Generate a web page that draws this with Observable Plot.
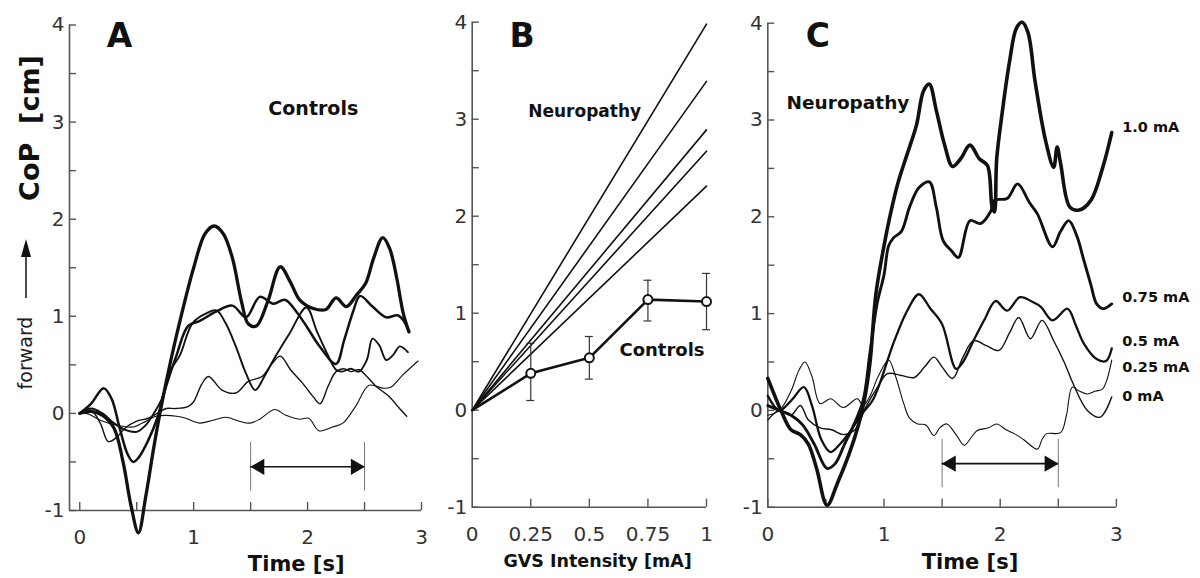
<!DOCTYPE html>
<html><head><meta charset="utf-8">
<script src="https://cdn.jsdelivr.net/npm/d3@7"></script>
<script src="https://cdn.jsdelivr.net/npm/@observablehq/plot@0.6"></script>
<style>
body{margin:0;background:#fff;}
#root{position:relative;width:1200px;height:578px;overflow:hidden;background:#fff;}
.panel{position:absolute;top:0;}
</style></head><body><div id="root"></div>
<script>
// ---------- Panel A: Controls, CoP over time for 5 GVS intensities ----------
const ctrl_0mA = [[0,0],[0.06,0],[0.18,-0.07],[0.32,-0.12],[0.47,-0.14],[0.55,-0.10],[0.67,-0.03],[0.76,-0.02],[0.85,-0.03],[0.93,-0.05],[1.05,-0.10],[1.17,-0.07],[1.28,-0.04],[1.40,-0.08],[1.49,-0.10],[1.58,-0.06],[1.71,0.04],[1.81,-0.02],[1.93,-0.06],[2.01,-0.05],[2.10,-0.18],[2.22,-0.14],[2.31,-0.10],[2.42,0.07],[2.54,0.29],[2.66,0.26],[2.73,0.27],[2.83,0.39],[2.97,0.54]];
const ctrl_025mA = [[0,0],[0.1,0.03],[0.18,-0.1],[0.25,-0.29],[0.32,-0.25],[0.4,-0.15],[0.5,-0.08],[0.6,-0.05],[0.68,0],[0.76,0.05],[0.84,0.05],[0.95,0.07],[1.0,0.12],[1.07,0.3],[1.13,0.38],[1.25,0.24],[1.37,0.21],[1.48,0.33],[1.6,0.38],[1.68,0.5],[1.76,0.59],[1.85,0.45],[1.95,0.32],[2.05,0.17],[2.11,0.10],[2.18,0.28],[2.25,0.43],[2.32,0.46],[2.38,0.43],[2.45,0.45],[2.52,0.38],[2.6,0.28],[2.72,0.17],[2.8,0.06],[2.87,-0.03]];
const ctrl_05mA = [[0,0],[0.1,0.05],[0.2,0.0],[0.3,-0.1],[0.4,-0.17],[0.5,-0.19],[0.58,-0.12],[0.65,0],[0.72,0.15],[0.8,0.45],[0.88,0.6],[0.99,0.93],[1.11,1.03],[1.2,1.06],[1.28,0.93],[1.37,0.69],[1.46,0.41],[1.54,0.24],[1.62,0.38],[1.7,0.55],[1.84,0.82],[1.99,1.09],[2.08,0.85],[2.17,0.62],[2.25,0.45],[2.3,0.43],[2.38,0.46],[2.45,0.43],[2.52,0.55],[2.57,0.77],[2.63,0.7],[2.69,0.55],[2.75,0.6],[2.81,0.69],[2.88,0.63]];
const ctrl_075mA = [[0,0],[0.1,0.1],[0.21,0.26],[0.28,0.15],[0.35,-0.15],[0.42,-0.42],[0.47,-0.5],[0.52,-0.45],[0.6,-0.28],[0.68,-0.05],[0.75,0.25],[0.85,0.6],[0.95,0.9],[1.05,0.95],[1.2,1.05],[1.34,1.11],[1.46,0.99],[1.58,1.2],[1.7,1.13],[1.8,1.17],[1.9,1.05],[2.0,0.88],[2.1,0.7],[2.25,0.51],[2.32,0.75],[2.4,1.05],[2.46,1.21],[2.57,1.10],[2.69,0.99],[2.79,1.01],[2.84,0.96],[2.89,0.84]];
const ctrl_1mA = [[0,0],[0.1,0.02],[0.2,-0.02],[0.3,-0.15],[0.38,-0.5],[0.45,-0.95],[0.515,-1.23],[0.58,-0.85],[0.65,-0.35],[0.72,0.1],[0.8,0.55],[0.9,1.05],[1.0,1.5],[1.1,1.85],[1.18,1.93],[1.26,1.85],[1.34,1.6],[1.42,1.15],[1.48,0.92],[1.55,0.9],[1.65,1.15],[1.76,1.51],[1.85,1.35],[1.93,1.17],[2.05,1.08],[2.16,1.07],[2.25,1.19],[2.34,1.10],[2.43,1.22],[2.51,1.34],[2.58,1.6],[2.66,1.81],[2.72,1.7],[2.78,1.41],[2.84,1.03],[2.89,0.84]];

// ---------- Panel B: peak CoP vs GVS intensity ----------
const gvsLevels = [0, 0.25, 0.5, 0.75, 1];
const neuroEndValues = [3.98, 3.39, 2.89, 2.67, 2.31];   // each neuropathy line from 0 to this value at 1 mA
const ctrlMean = [0, 0.38, 0.54, 1.14, 1.12];
const ctrlLow  = [null, 0.10, 0.32, 0.92, 0.83];
const ctrlHigh = [null, 0.69, 0.76, 1.34, 1.41];

// ---------- Panel C: Neuropathy, CoP over time ----------
const neuro_0mA = [[0,-0.05],[0.1,0.0],[0.2,0.2],[0.27,0.42],[0.32,0.5],[0.38,0.35],[0.45,0.07],[0.54,0.12],[0.65,0.03],[0.77,0.12],[0.82,0.05],[0.88,0.15],[0.95,0.35],[1.04,0.52],[1.1,0.35],[1.17,0.07],[1.22,-0.08],[1.29,-0.14],[1.36,-0.15],[1.43,-0.26],[1.48,-0.18],[1.54,-0.14],[1.62,-0.25],[1.69,-0.36],[1.75,-0.28],[1.8,-0.21],[1.9,-0.18],[1.97,-0.14],[2.05,-0.2],[2.12,-0.24],[2.2,-0.3],[2.32,-0.4],[2.36,-0.3],[2.4,-0.24],[2.52,-0.23],[2.57,-0.05],[2.62,0.24],[2.68,0.2],[2.75,0.17],[2.82,0.2],[2.88,0.22],[2.96,0.52]];
const neuro_025mA = [[0,-0.1],[0.1,0.0],[0.2,-0.05],[0.28,0.05],[0.35,-0.1],[0.45,-0.18],[0.55,-0.2],[0.65,-0.25],[0.75,-0.2],[0.85,0.05],[0.95,0.25],[1.03,0.38],[1.15,0.36],[1.26,0.34],[1.35,0.45],[1.43,0.55],[1.5,0.45],[1.59,0.33],[1.68,0.55],[1.77,0.72],[1.88,0.67],[1.99,0.62],[2.08,0.8],[2.16,0.96],[2.26,0.74],[2.36,0.93],[2.46,0.72],[2.55,0.5],[2.63,0.27],[2.75,0.0],[2.86,-0.07],[2.96,0.14]];
const neuro_05mA = [[0,0.15],[0.1,0.0],[0.2,0.1],[0.31,0.24],[0.38,0.05],[0.46,-0.3],[0.54,-0.43],[0.62,-0.35],[0.72,-0.2],[0.8,-0.05],[0.9,0.1],[0.97,0.3],[1.08,0.69],[1.2,1.03],[1.3,1.2],[1.4,1.05],[1.5,0.89],[1.62,0.43],[1.68,0.5],[1.77,0.72],[1.87,0.95],[1.96,1.13],[2.06,1.03],[2.17,1.17],[2.28,1.12],[2.35,1.07],[2.45,0.93],[2.58,1.05],[2.65,0.88],[2.72,0.69],[2.83,0.53],[2.91,0.51],[2.96,0.64]];
const neuro_075mA = [[0,0.05],[0.1,0.0],[0.2,-0.05],[0.3,-0.15],[0.4,-0.35],[0.51,-0.6],[0.58,-0.55],[0.66,-0.35],[0.74,-0.15],[0.82,0.1],[0.88,0.6],[0.94,1.1],[1.0,1.4],[1.04,1.7],[1.08,1.78],[1.15,1.85],[1.22,2.1],[1.3,2.3],[1.39,2.36],[1.45,2.1],[1.51,1.75],[1.58,1.65],[1.64,1.58],[1.74,1.96],[1.83,1.93],[1.92,2.06],[1.95,2.17],[2.06,2.19],[2.15,2.34],[2.25,2.15],[2.32,2.03],[2.45,1.69],[2.52,1.85],[2.59,1.96],[2.66,1.8],[2.72,1.55],[2.78,1.3],[2.83,1.10],[2.89,1.05],[2.96,1.10]];
const neuro_1mA = [[0,0.33],[0.06,0.15],[0.12,-0.02],[0.2,-0.2],[0.28,-0.25],[0.35,-0.35],[0.42,-0.6],[0.51,-0.98],[0.6,-0.75],[0.7,-0.45],[0.78,-0.15],[0.83,0.1],[0.88,0.5],[0.93,1.2],[1.0,1.7],[1.05,2.0],[1.12,2.35],[1.2,2.65],[1.28,2.95],[1.34,3.3],[1.39,3.37],[1.45,3.1],[1.52,2.75],[1.59,2.52],[1.66,2.6],[1.74,2.74],[1.82,2.6],[1.89,2.53],[1.93,2.1],[1.95,2.05],[1.97,2.6],[2.02,3.1],[2.08,3.6],[2.14,3.95],[2.19,4.01],[2.24,3.9],[2.3,3.4],[2.39,2.79],[2.46,2.51],[2.49,2.72],[2.52,2.55],[2.6,2.1],[2.68,2.07],[2.78,2.17],[2.88,2.5],[2.96,2.87]];
const neuroLabels = ["1.0 mA", "0.75 mA", "0.5 mA", "0.25 mA", "0 mA"];
const neuroLabelY = [2.92, 1.17, 0.71, 0.44, 0.15];

// ---------- Axes ----------
const yTicksMinor = [-1,-0.5,0,0.5,1,1.5,2,2.5,3,3.5,4];
const yTickLabels = [-1,0,1,2,3,4];
const timeTicks = [0,0.5,1,1.5,2,2.5,3];
const timeLabels = [0,1,2,3];
const gvsTicks = [0.25,0.5,0.75,1];
const gvsTickLabels = ["0","0.25","0.5","0.75","1"];
const stimWindow = [1.5, 2.5];

const axisColor = "#555";
const tickColor = "#333";
const tickFont = "DejaVu Sans";
const boldFont = "DejaVu Sans";
const ink = "#111";

// axis frame: axis lines, inward ticks (Plot's own axis tick marks with negative size), labels
function frameMarks(xmin, xmax, xTicks, xLabelVals, xLabelText) {
  return [
    Plot.ruleX([xmin], {y1: () => -1, y2: () => 4, stroke: axisColor, strokeWidth: 1.6}),
    Plot.ruleY([-1], {x1: () => xmin, x2: () => xmax, stroke: axisColor, strokeWidth: 1.6}),
    Plot.axisY(yTicksMinor, {anchor: "left", tickSize: -7, tickFormat: () => "", label: null, stroke: axisColor, strokeWidth: 1.4}),
    Plot.axisX(xTicks, {anchor: "bottom", tickSize: -8, tickFormat: () => "", label: null, stroke: axisColor, strokeWidth: 1.4}),
    Plot.text(yTickLabels, {x: () => xmin, y: d => d, text: d => String(d), textAnchor: "end", dx: -5, fontSize: 20, fill: tickColor, fontFamily: tickFont}),
    Plot.text(xLabelVals, {x: d => d, y: () => -1, text: xLabelText, dy: 27, fontSize: 20, fill: tickColor, fontFamily: tickFont})
  ];
}

function windowArrow() {
  return [
    Plot.ruleX(stimWindow, {y1: () => -0.3, y2: () => -0.8, stroke: "#777", strokeWidth: 1}),
    Plot.ruleY([-0.55], {x1: () => stimWindow[0], x2: () => stimWindow[1], stroke: ink, strokeWidth: 1.6}),
    Plot.dot([stimWindow[0]], {x: d => d, y: () => -0.55, symbol: "triangle", r: 6, rotate: -90, fill: ink, stroke: "none", dx: 9}),
    Plot.dot([stimWindow[1]], {x: d => d, y: () => -0.55, symbol: "triangle", r: 6, rotate: 90, fill: ink, stroke: "none", dx: -9})
  ];
}

function series(data, w) {
  return Plot.line(data, {x: d => d[0], y: d => d[1], curve: "catmull-rom", stroke: ink, strokeWidth: w, strokeLinejoin: "round", strokeLinecap: "round"});
}

const root = document.getElementById("root");
function place(svg, left) {
  const div = document.createElement("div");
  div.className = "panel";
  div.style.left = left + "px";
  div.appendChild(svg);
  root.appendChild(div);
}

// Panel A
const plotA = Plot.plot({
  width: 430, height: 578,
  marginLeft: 69, marginRight: 9, marginTop: 24.5, marginBottom: 68,
  x: {domain: [-0.09, 3]},
  y: {domain: [-1, 4]},
  style: {background: "transparent", overflow: "visible"},
  marks: [
    ...frameMarks(-0.09, 3, timeTicks, timeLabels, d => String(d)),
    ...windowArrow(),
    series(ctrl_0mA, 1.1),
    series(ctrl_025mA, 1.4),
    series(ctrl_05mA, 1.9),
    series(ctrl_075mA, 2.5),
    series(ctrl_1mA, 3.3),
    Plot.text(["A"], {x: () => 0.35, y: () => 3.88, fontSize: 33, fontWeight: "bold", fontFamily: boldFont, fill: ink}),
    Plot.text(["Controls"], {x: () => 2.05, y: () => 3.14, fontSize: 19, fontWeight: "bold", fontFamily: boldFont, fill: ink}),
    Plot.text(["Time [s]"], {x: () => 1.9, y: () => -1, dy: 54, fontSize: 21, fontWeight: "bold", fontFamily: boldFont, fill: ink})
  ]
});
place(plotA, 0);

// Panel B
const neuroLines = neuroEndValues.flatMap((v, i) => [{id: i, x: 0, y: 0}, {id: i, x: 1, y: v}]);
const ctrlPts = gvsLevels.map((g, i) => ({x: g, y: ctrlMean[i], lo: ctrlLow[i], hi: ctrlHigh[i]}));
const ctrlErr = ctrlPts.filter(d => d.lo != null);
const capHalf = 0.017;
const plotB = Plot.plot({
  width: 320, height: 578,
  marginLeft: 71.7, marginRight: 14, marginTop: 21.7, marginBottom: 71.3,
  x: {domain: [0, 1]},
  y: {domain: [-1, 4]},
  style: {background: "transparent", overflow: "visible"},
  marks: [
    ...frameMarks(0, 1, gvsTicks, gvsLevels, (d, i) => gvsTickLabels[i]),
    Plot.line(neuroLines, {x: "x", y: "y", z: "id", stroke: ink, strokeWidth: 1.6}),
    Plot.ruleX(ctrlErr, {x: "x", y1: "lo", y2: "hi", stroke: "#333", strokeWidth: 1.2}),
    Plot.ruleY(ctrlErr, {y: "lo", x1: d => d.x - capHalf, x2: d => d.x + capHalf, stroke: "#333", strokeWidth: 1.2}),
    Plot.ruleY(ctrlErr, {y: "hi", x1: d => d.x - capHalf, x2: d => d.x + capHalf, stroke: "#333", strokeWidth: 1.2}),
    Plot.line(ctrlPts, {x: "x", y: "y", stroke: ink, strokeWidth: 2.6}),
    Plot.dot(ctrlPts.slice(1), {x: "x", y: "y", r: 4.5, fill: "white", stroke: ink, strokeWidth: 2}),
    Plot.text(["B"], {x: () => 0.213, y: () => 3.85, fontSize: 33, fontWeight: "bold", fontFamily: boldFont, fill: ink}),
    Plot.text(["Neuropathy"], {x: () => 0.48, y: () => 3.08, fontSize: 17, fontWeight: "bold", fontFamily: boldFont, fill: ink}),
    Plot.text(["Controls"], {x: () => 0.81, y: () => 0.62, fontSize: 18, fontWeight: "bold", fontFamily: boldFont, fill: ink}),
    Plot.text(["GVS Intensity [mA]"], {x: () => 0.535, y: () => -1, dy: 54, fontSize: 17.5, fontWeight: "bold", fontFamily: boldFont, fill: ink})
  ]
});
place(plotB, 400);

// Panel C
const plotC = Plot.plot({
  width: 500, height: 578,
  marginLeft: 67.3, marginRight: 84.1, marginTop: 22.7, marginBottom: 71.3,
  x: {domain: [0, 3]},
  y: {domain: [-1, 4]},
  style: {background: "transparent", overflow: "visible"},
  marks: [
    ...frameMarks(0, 3, timeTicks, timeLabels, d => String(d)),
    ...windowArrow(),
    series(neuro_0mA, 1.1),
    series(neuro_025mA, 1.4),
    series(neuro_05mA, 2.3),
    series(neuro_075mA, 2.9),
    series(neuro_1mA, 3.6),
    Plot.text(neuroLabels, {x: () => 3.05, y: (d, i) => neuroLabelY[i], text: d => d, textAnchor: "start", fontSize: 14.5, fontWeight: "bold", fontFamily: boldFont, fill: ink}),
    Plot.text(["C"], {x: () => 0.43, y: () => 3.86, fontSize: 33, fontWeight: "bold", fontFamily: boldFont, fill: ink}),
    Plot.text(["Neuropathy"], {x: () => 0.69, y: () => 3.17, fontSize: 18.5, fontWeight: "bold", fontFamily: boldFont, fill: ink}),
    Plot.text(["Time [s]"], {x: () => 1.74, y: () => -1, dy: 55, fontSize: 21, fontWeight: "bold", fontFamily: boldFont, fill: ink})
  ]
});
place(plotC, 700);

// shared y-axis title (left margin of panel A)
const ns = "http://www.w3.org/2000/svg";
const ov = document.createElementNS(ns, "svg");
ov.setAttribute("width", 1200); ov.setAttribute("height", 578);
ov.style.position = "absolute"; ov.style.left = "0"; ov.style.top = "0"; ov.style.pointerEvents = "none";
ov.innerHTML = `
  <text transform="translate(39,128) rotate(-90)" text-anchor="middle" font-family="DejaVu Sans" font-weight="bold" font-size="27" fill="#111" style="white-space:pre">CoP  [cm]</text>
  <text transform="translate(32,353) rotate(-90)" text-anchor="middle" font-family="DejaVu Sans" font-size="19" fill="#222">forward</text>
  <line x1="26" y1="298" x2="26" y2="254" stroke="#111" stroke-width="1.5"/>
  <path d="M26,239 L21,257 L31,257 Z" fill="#111"/>`;
root.appendChild(ov);
</script>
</body></html>
